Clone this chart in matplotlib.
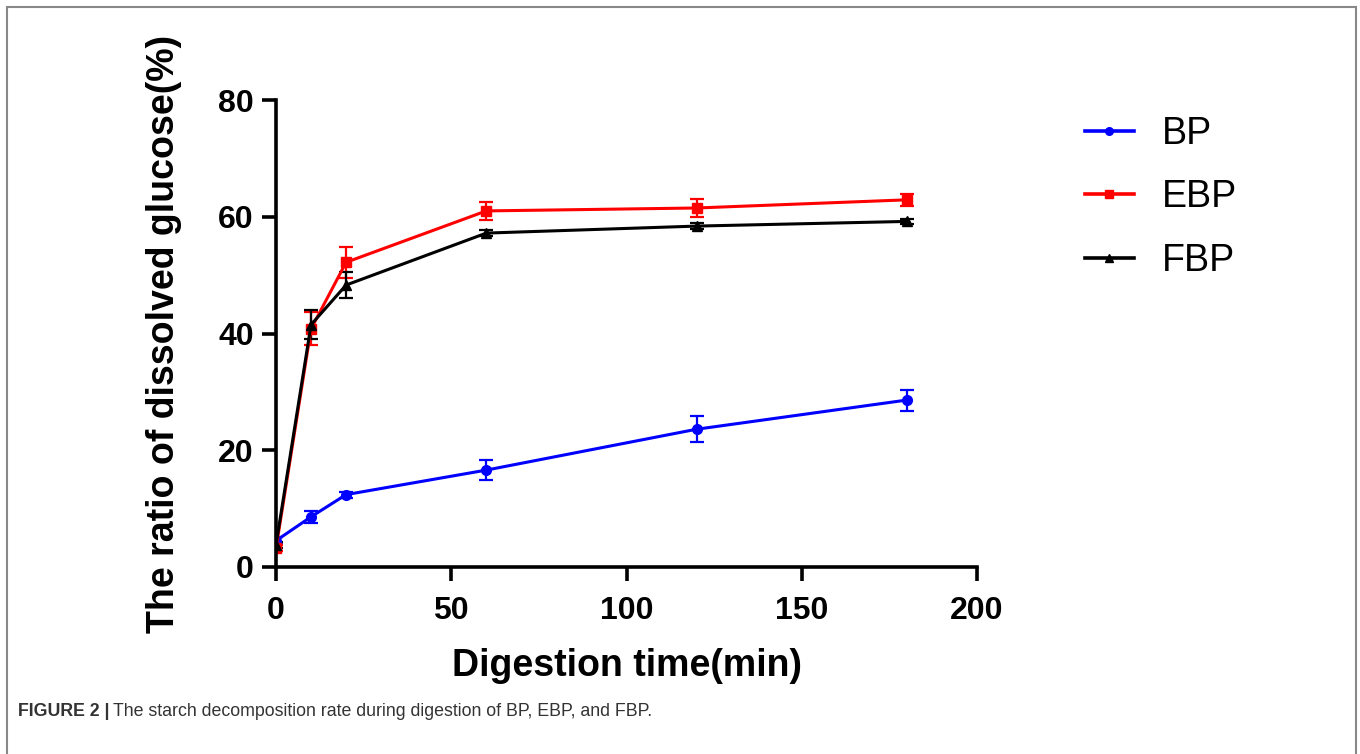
import matplotlib
matplotlib.use("Agg")
import matplotlib.pyplot as plt
from matplotlib.lines import Line2D
from matplotlib.patches import Rectangle

plt.rcParams["font.family"] = ["Liberation Sans", "DejaVu Sans"]

# digestion time (min)
time_min = [0, 10, 20, 60, 120, 180]

# ratio of dissolved glucose (%) and error bars
bp = [4.5, 8.6, 12.4, 16.6, 23.6, 28.6]
bp_err = [0.6, 1.0, 0.5, 1.7, 2.2, 1.8]
ebp = [3.2, 40.8, 52.2, 61.0, 61.5, 62.9]
ebp_err = [0.5, 2.8, 2.7, 1.6, 1.5, 1.0]
fbp = [3.8, 41.5, 48.3, 57.2, 58.4, 59.2]
fbp_err = [0.5, 2.5, 2.2, 0.5, 0.5, 0.4]

series = [
    ("BP", bp, bp_err, "#0000ff", "o"),
    ("EBP", ebp, ebp_err, "#ff0000", "s"),
    ("FBP", fbp, fbp_err, "#000000", "^"),
]

fig = plt.figure(figsize=(13.6, 7.54), dpi=100)
ax = fig.add_axes([276 / 1360, 1 - 567 / 754, (977 - 276) / 1360, (567 - 100) / 754])

handles = []
for name, vals, errs, color, marker in series:
    ax.errorbar(time_min, vals, yerr=errs, color=color, marker=marker,
                markersize=7, linewidth=2.2, elinewidth=1.6, capsize=5,
                capthick=1.6)
    handles.append(Line2D([], [], color=color, marker=marker, markersize=5.5,
                          linewidth=2.6, label=name))

ax.set_xlim(0, 200)
ax.set_ylim(0, 80)
ax.set_xticks([0, 50, 100, 150, 200])
ax.set_yticks([0, 20, 40, 60, 80])
for side in ["top", "right"]:
    ax.spines[side].set_visible(False)
for side in ["left", "bottom"]:
    ax.spines[side].set_linewidth(2.6)
ax.tick_params(width=2.6, length=10, labelsize=23)
ax.tick_params(axis="x", pad=11)
ax.tick_params(axis="y", pad=6)
for lbl in ax.get_xticklabels() + ax.get_yticklabels():
    lbl.set_fontweight("bold")

ax.set_xlabel("Digestion time(min)", fontsize=27, fontweight="bold", labelpad=16)
ax.set_ylabel("The ratio of dissolved glucose(%)", fontsize=27,
              fontweight="bold", labelpad=26)

fig.legend(handles=handles, loc="upper left",
           bbox_to_anchor=(1085 / 1360, 1 - 116 / 754), frameon=False,
           fontsize=27, handlelength=1.3, labelspacing=0.73,
           handletextpad=0.75, borderpad=0, borderaxespad=0)

# figure frame and caption
fig.patches.append(Rectangle((7 / 1360, -0.05), (1356 - 7) / 1360, 1.05 - 7 / 754,
                             transform=fig.transFigure, fill=False,
                             edgecolor="#888888", linewidth=1.5))
fig.text(18 / 1360, 1 - 712 / 754, "FIGURE 2 |", fontsize=12.8,
         fontweight="bold", color="#333333", va="center")
fig.text(113 / 1360, 1 - 712 / 754,
         "The starch decomposition rate during digestion of BP, EBP, and FBP.",
         fontsize=12.8, color="#333333", va="center")

fig.savefig("out.png", dpi=100)
